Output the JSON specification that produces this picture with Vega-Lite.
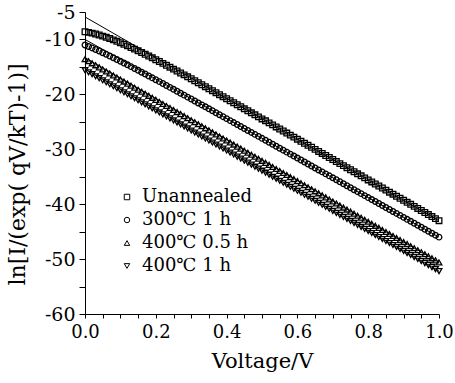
{
  "$schema": "https://vega.github.io/schema/vega-lite/v6.json",
  "width": 354,
  "height": 302,
  "autosize": {"type": "none"},
  "padding": {"left": 85, "top": 12, "right": 16, "bottom": 69},
  "background": "white",
  "config": {
    "view": {"stroke": null},
    "font": "DejaVu Serif",
    "axis": {"domainColor": "black", "tickColor": "black", "labelColor": "black", "titleColor": "black", "labelFont": "DejaVu Serif", "titleFont": "DejaVu Serif", "titleFontWeight": "normal", "grid": false}
  },
  "datasets": {
    "pts": [
      {"V":0.00,"u":-8.60,"a":-11.00,"b":-13.60,"c":-15.60},
      {"V":0.01,"u":-8.71,"a":-11.27,"b":-13.97,"c":-15.97},
      {"V":0.02,"u":-8.85,"a":-11.54,"b":-14.34,"c":-16.33},
      {"V":0.03,"u":-9.01,"a":-11.82,"b":-14.71,"c":-16.70},
      {"V":0.04,"u":-9.19,"a":-12.11,"b":-15.08,"c":-17.06},
      {"V":0.05,"u":-9.39,"a":-12.41,"b":-15.45,"c":-17.43},
      {"V":0.06,"u":-9.61,"a":-12.71,"b":-15.82,"c":-17.80},
      {"V":0.07,"u":-9.84,"a":-13.02,"b":-16.19,"c":-18.16},
      {"V":0.08,"u":-10.08,"a":-13.33,"b":-16.56,"c":-18.53},
      {"V":0.09,"u":-10.34,"a":-13.65,"b":-16.93,"c":-18.89},
      {"V":0.10,"u":-10.60,"a":-13.97,"b":-17.30,"c":-19.26},
      {"V":0.11,"u":-10.88,"a":-14.29,"b":-17.67,"c":-19.63},
      {"V":0.12,"u":-11.17,"a":-14.62,"b":-18.04,"c":-19.99},
      {"V":0.13,"u":-11.46,"a":-14.95,"b":-18.41,"c":-20.36},
      {"V":0.14,"u":-11.76,"a":-15.29,"b":-18.78,"c":-20.72},
      {"V":0.15,"u":-12.07,"a":-15.62,"b":-19.15,"c":-21.09},
      {"V":0.16,"u":-12.38,"a":-15.96,"b":-19.52,"c":-21.46},
      {"V":0.17,"u":-12.70,"a":-16.30,"b":-19.89,"c":-21.82},
      {"V":0.18,"u":-13.02,"a":-16.65,"b":-20.26,"c":-22.19},
      {"V":0.19,"u":-13.35,"a":-16.99,"b":-20.63,"c":-22.55},
      {"V":0.20,"u":-13.69,"a":-17.34,"b":-21.00,"c":-22.92},
      {"V":0.21,"u":-14.02,"a":-17.68,"b":-21.37,"c":-23.29},
      {"V":0.22,"u":-14.36,"a":-18.03,"b":-21.74,"c":-23.65},
      {"V":0.23,"u":-14.70,"a":-18.38,"b":-22.11,"c":-24.02},
      {"V":0.24,"u":-15.05,"a":-18.73,"b":-22.48,"c":-24.38},
      {"V":0.25,"u":-15.40,"a":-19.08,"b":-22.85,"c":-24.75},
      {"V":0.26,"u":-15.75,"a":-19.43,"b":-23.22,"c":-25.12},
      {"V":0.27,"u":-16.10,"a":-19.79,"b":-23.59,"c":-25.48},
      {"V":0.28,"u":-16.45,"a":-20.14,"b":-23.96,"c":-25.85},
      {"V":0.29,"u":-16.81,"a":-20.50,"b":-24.33,"c":-26.21},
      {"V":0.30,"u":-17.16,"a":-20.85,"b":-24.70,"c":-26.58},
      {"V":0.31,"u":-17.52,"a":-21.21,"b":-25.07,"c":-26.95},
      {"V":0.32,"u":-17.88,"a":-21.56,"b":-25.44,"c":-27.31},
      {"V":0.33,"u":-18.24,"a":-21.92,"b":-25.81,"c":-27.68},
      {"V":0.34,"u":-18.60,"a":-22.27,"b":-26.18,"c":-28.04},
      {"V":0.35,"u":-18.97,"a":-22.63,"b":-26.55,"c":-28.41},
      {"V":0.36,"u":-19.33,"a":-22.99,"b":-26.92,"c":-28.78},
      {"V":0.37,"u":-19.69,"a":-23.35,"b":-27.29,"c":-29.14},
      {"V":0.38,"u":-20.06,"a":-23.70,"b":-27.66,"c":-29.51},
      {"V":0.39,"u":-20.42,"a":-24.06,"b":-28.03,"c":-29.87},
      {"V":0.40,"u":-20.79,"a":-24.42,"b":-28.40,"c":-30.24},
      {"V":0.41,"u":-21.16,"a":-24.78,"b":-28.77,"c":-30.61},
      {"V":0.42,"u":-21.52,"a":-25.14,"b":-29.14,"c":-30.97},
      {"V":0.43,"u":-21.89,"a":-25.49,"b":-29.51,"c":-31.34},
      {"V":0.44,"u":-22.26,"a":-25.85,"b":-29.88,"c":-31.70},
      {"V":0.45,"u":-22.63,"a":-26.21,"b":-30.25,"c":-32.07},
      {"V":0.46,"u":-22.99,"a":-26.57,"b":-30.62,"c":-32.44},
      {"V":0.47,"u":-23.36,"a":-26.93,"b":-30.99,"c":-32.80},
      {"V":0.48,"u":-23.73,"a":-27.29,"b":-31.36,"c":-33.17},
      {"V":0.49,"u":-24.10,"a":-27.65,"b":-31.73,"c":-33.53},
      {"V":0.50,"u":-24.47,"a":-28.01,"b":-32.10,"c":-33.90},
      {"V":0.51,"u":-24.82,"a":-28.36,"b":-32.47,"c":-34.27},
      {"V":0.52,"u":-25.19,"a":-28.72,"b":-32.84,"c":-34.63},
      {"V":0.53,"u":-25.56,"a":-29.08,"b":-33.21,"c":-35.00},
      {"V":0.54,"u":-25.93,"a":-29.44,"b":-33.58,"c":-35.36},
      {"V":0.55,"u":-26.31,"a":-29.80,"b":-33.95,"c":-35.73},
      {"V":0.56,"u":-26.68,"a":-30.16,"b":-34.32,"c":-36.10},
      {"V":0.57,"u":-27.05,"a":-30.52,"b":-34.69,"c":-36.46},
      {"V":0.58,"u":-27.42,"a":-30.88,"b":-35.06,"c":-36.83},
      {"V":0.59,"u":-27.79,"a":-31.24,"b":-35.43,"c":-37.19},
      {"V":0.60,"u":-28.16,"a":-31.60,"b":-35.80,"c":-37.56},
      {"V":0.61,"u":-28.53,"a":-31.96,"b":-36.17,"c":-37.93},
      {"V":0.62,"u":-28.90,"a":-32.32,"b":-36.54,"c":-38.29},
      {"V":0.63,"u":-29.27,"a":-32.68,"b":-36.91,"c":-38.66},
      {"V":0.64,"u":-29.64,"a":-33.04,"b":-37.28,"c":-39.02},
      {"V":0.65,"u":-30.02,"a":-33.40,"b":-37.65,"c":-39.39},
      {"V":0.66,"u":-30.39,"a":-33.76,"b":-38.02,"c":-39.76},
      {"V":0.67,"u":-30.76,"a":-34.12,"b":-38.39,"c":-40.12},
      {"V":0.68,"u":-31.13,"a":-34.48,"b":-38.76,"c":-40.49},
      {"V":0.69,"u":-31.50,"a":-34.84,"b":-39.13,"c":-40.85},
      {"V":0.70,"u":-31.87,"a":-35.20,"b":-39.50,"c":-41.22},
      {"V":0.71,"u":-32.24,"a":-35.56,"b":-39.87,"c":-41.59},
      {"V":0.72,"u":-32.61,"a":-35.92,"b":-40.24,"c":-41.95},
      {"V":0.73,"u":-32.98,"a":-36.28,"b":-40.61,"c":-42.32},
      {"V":0.74,"u":-33.35,"a":-36.64,"b":-40.98,"c":-42.68},
      {"V":0.75,"u":-33.73,"a":-37.00,"b":-41.35,"c":-43.05},
      {"V":0.76,"u":-34.10,"a":-37.36,"b":-41.72,"c":-43.42},
      {"V":0.77,"u":-34.47,"a":-37.72,"b":-42.09,"c":-43.78},
      {"V":0.78,"u":-34.84,"a":-38.08,"b":-42.46,"c":-44.15},
      {"V":0.79,"u":-35.21,"a":-38.44,"b":-42.83,"c":-44.51},
      {"V":0.80,"u":-35.58,"a":-38.80,"b":-43.20,"c":-44.88},
      {"V":0.81,"u":-35.95,"a":-39.16,"b":-43.57,"c":-45.25},
      {"V":0.82,"u":-36.32,"a":-39.52,"b":-43.94,"c":-45.61},
      {"V":0.83,"u":-36.69,"a":-39.88,"b":-44.31,"c":-45.98},
      {"V":0.84,"u":-37.06,"a":-40.24,"b":-44.68,"c":-46.34},
      {"V":0.85,"u":-37.44,"a":-40.60,"b":-45.05,"c":-46.71},
      {"V":0.86,"u":-37.81,"a":-40.96,"b":-45.42,"c":-47.08},
      {"V":0.87,"u":-38.18,"a":-41.32,"b":-45.79,"c":-47.44},
      {"V":0.88,"u":-38.55,"a":-41.68,"b":-46.16,"c":-47.81},
      {"V":0.89,"u":-38.92,"a":-42.04,"b":-46.53,"c":-48.17},
      {"V":0.90,"u":-39.29,"a":-42.40,"b":-46.90,"c":-48.54},
      {"V":0.91,"u":-39.66,"a":-42.76,"b":-47.27,"c":-48.91},
      {"V":0.92,"u":-40.03,"a":-43.12,"b":-47.64,"c":-49.27},
      {"V":0.93,"u":-40.40,"a":-43.48,"b":-48.01,"c":-49.64},
      {"V":0.94,"u":-40.77,"a":-43.84,"b":-48.38,"c":-50.00},
      {"V":0.95,"u":-41.15,"a":-44.20,"b":-48.75,"c":-50.37},
      {"V":0.96,"u":-41.52,"a":-44.56,"b":-49.12,"c":-50.74},
      {"V":0.97,"u":-41.89,"a":-44.92,"b":-49.49,"c":-51.10},
      {"V":0.98,"u":-42.26,"a":-45.28,"b":-49.86,"c":-51.47},
      {"V":0.99,"u":-42.63,"a":-45.64,"b":-50.23,"c":-51.83},
      {"V":1.00,"u":-43.00,"a":-46.00,"b":-50.60,"c":-52.20}
    ],
    "fit": [
      {"V":0,"u":-5.9,"a":-10.0,"b":-13.3,"c":-15.4},
      {"V":1,"u":-43.0,"a":-46.0,"b":-50.6,"c":-52.2}
    ]
  },
  "layer": [
    {
      "data": {"name": "fit"},
      "transform": [{"fold": ["u","a","b","c"], "as": ["s","y"]}],
      "mark": {"type": "line", "color": "black", "strokeWidth": 1},
      "encoding": {
        "x": {"field": "V", "type": "quantitative"},
        "y": {"field": "y", "type": "quantitative"},
        "detail": {"field": "s"}
      }
    },
    {
      "data": {"name": "pts"},
      "transform": [{"fold": ["u","a","b","c"], "as": ["s","y"]}],
      "mark": {"type": "point", "filled": false, "color": "black", "strokeWidth": 1.3, "size": 32, "opacity": 1},
      "encoding": {
        "x": {
          "field": "V", "type": "quantitative",
          "scale": {"domain": [0, 1], "nice": false, "zero": false},
          "axis": {
            "title": "Voltage/V",
            "titleFontSize": 21,
            "titleY": 47,
            "titleBaseline": "middle",
            "values": [0,0.05,0.1,0.15,0.2,0.25,0.3,0.35,0.4,0.45,0.5,0.55,0.6,0.65,0.7,0.75,0.8,0.85,0.9,0.95,1],
            "tickCount": 100,
            "labelExpr": "abs(datum.value*5 - round(datum.value*5)) < 0.000001 ? format(datum.value, '.1f') : ''",
            "labelFontSize": 18,
            "labelPadding": 5,
            "tickSize": 4,
            "labelFlush": false,
            "labelOverlap": false
          }
        },
        "y": {
          "field": "y", "type": "quantitative",
          "scale": {"domain": [-60, -5], "nice": false, "zero": false},
          "axis": {
            "title": "ln[I/(exp( qV/kT)-1)]",
            "titleFontSize": 22,
            "titleAngle": -90,
            "titleX": -68,
            "titleY": 162,
            "titleBaseline": "middle",
            "titleAlign": "center",
            "values": [-60,-55,-50,-45,-40,-35,-30,-25,-20,-15,-10,-5],
            "tickCount": 100,
            "labelExpr": "(datum.value == -60 || datum.value == -50 || datum.value == -40 || datum.value == -30 || datum.value == -20 || datum.value == -10 || datum.value == -5) ? ('' + datum.value) : ''",
            "labelFontSize": 19,
            "labelPadding": 4,
            "tickSize": 6,
            "labelFlush": false,
            "labelBound": false,
            "labelOverlap": false
          }
        },
        "shape": {
          "field": "s", "type": "nominal",
          "scale": {"domain": ["u","a","b","c"], "range": ["square","circle","triangle-up","triangle-down"]},
          "legend": {
            "orient": "none",
            "legendX": 33,
            "legendY": 176,
            "title": null,
            "labelExpr": "datum.label == 'u' ? 'Unannealed' : datum.label == 'a' ? '300℃ 1 h' : datum.label == 'b' ? '400℃ 0.5 h' : '400℃ 1 h'",
            "labelFont": "DejaVu Serif",
            "labelFontSize": 18,
            "labelColor": "black",
            "symbolSize": 30,
            "symbolStrokeWidth": 1,
            "symbolStrokeColor": "black",
            "symbolFillColor": "transparent",
            "rowPadding": 5,
            "labelOffset": 6
          }
        }
      }
    }
  ]
}
